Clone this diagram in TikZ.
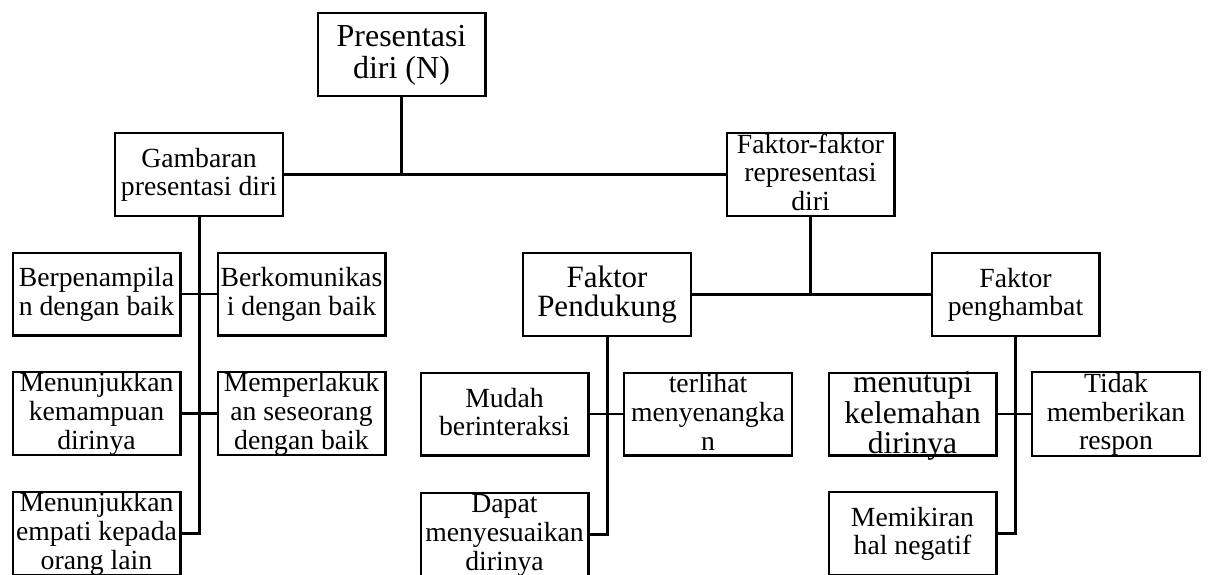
\documentclass[tikz,border=0pt]{standalone}
\usepackage{fontspec}
\setmainfont{Liberation Serif}
\newcommand\mysetstrut{\setbox\strutbox\hbox{\vrule height .694\baselineskip depth .174\baselineskip width 0pt}}
\begin{document}
\begin{tikzpicture}[x=1pt,y=-1pt,
  box/.style={draw, line width=2.4pt, rectangle, minimum width=167.6pt, minimum height=82.6pt,
    inner sep=0pt, align=center, font=\fontsize{27.7}{28.8}\selectfont\mysetstrut},
  bigbox/.style={box, font=\fontsize{32}{32}\selectfont\mysetstrut},
  midbox/.style={box, font=\fontsize{31}{28.5}\selectfont\mysetstrut},
  freetext/.style={inner sep=0pt, align=center, font=\fontsize{31.5}{30.5}\selectfont\mysetstrut},
  link/.style={line width=2.4pt},
  trunk/.style={line width=3pt}]
\clip (0,0) rectangle (1209,574);
\fill[white] (0,0) rectangle (1209,574);

% level 0
\node[bigbox] (P) at (401.5,54.5) {\strut Presentasi\\diri (N)\strut};
% level 1
\node[box] (G) at (199,174.5) {\strut Gambaran\\presentasi diri\strut};
\node[box] (F) at (810.5,174.5) {\strut Faktor-faktor\\representasi\\diri\strut};
% level 2 right
\node[midbox] (FP) at (607,294.5) {\strut Faktor\\Pendukung\strut};
\node[box] (FH) at (1015.5,294.5) {\strut Faktor\\penghambat\strut};
% left column
\node[box] (L1a) at (96.5,294) {\strut Berpenampila\\n dengan baik\strut};
\node[box] (L1b) at (301.5,294) {\strut Berkomunikas\\i dengan baik\strut};
\node[box] (L2a) at (96.5,413.5) {\strut Menunjukkan\\kemampuan\\dirinya\strut};
\node[box] (L2b) at (301.5,413.5) {\strut Memperlakuk\\an seseorang\\dengan baik\strut};
\node[box] (L3a) at (96.5,533.5) {\strut Menunjukkan\\empati kepada\\orang lain\strut};
% middle column
\node[box] (M2a) at (504.5,414) {\strut Mudah\\berinteraksi\strut};
\node[box] (M2b) at (708,414) {\strut terlihat\\menyenangka\\n\strut};
\node[box] (M3a) at (504.5,534.5) {\strut Dapat\\menyesuaikan\\dirinya\strut};
% right column
\node[box] (R2a) at (912.5,414) {};
\node[freetext] (R2at) at (912.5,416) {\strut menutupi\\kelemahan\\dirinya\strut};
\node[box] (R2b) at (1116,414) {\strut Tidak\\memberikan\\respon\strut};
\node[box] (R3a) at (912.5,533.5) {\strut Memikiran\\hal negatif\strut};

% connectors
\draw[link] (P.south) -- (P.south |- G.east);
\draw[link] (G.east) -- (F.west);
\draw[trunk] (G.south) |- (L3a.east);
\draw[link] (L1a.east) -- (L1b.west);
\draw[link] (L2a.east) -- (L2b.west);

\draw[link] (F.south) -- (F.south |- FP.east);
\draw[link] (FP.east) -- (FH.west);

\draw[trunk] (FP.south) |- (M3a.east);
\draw[link] (M2a.east) -- (M2b.west);

\draw[trunk] (FH.south) |- (R3a.east);
\draw[link] (R2a.east) -- (R2b.west);
\end{tikzpicture}
\end{document}
